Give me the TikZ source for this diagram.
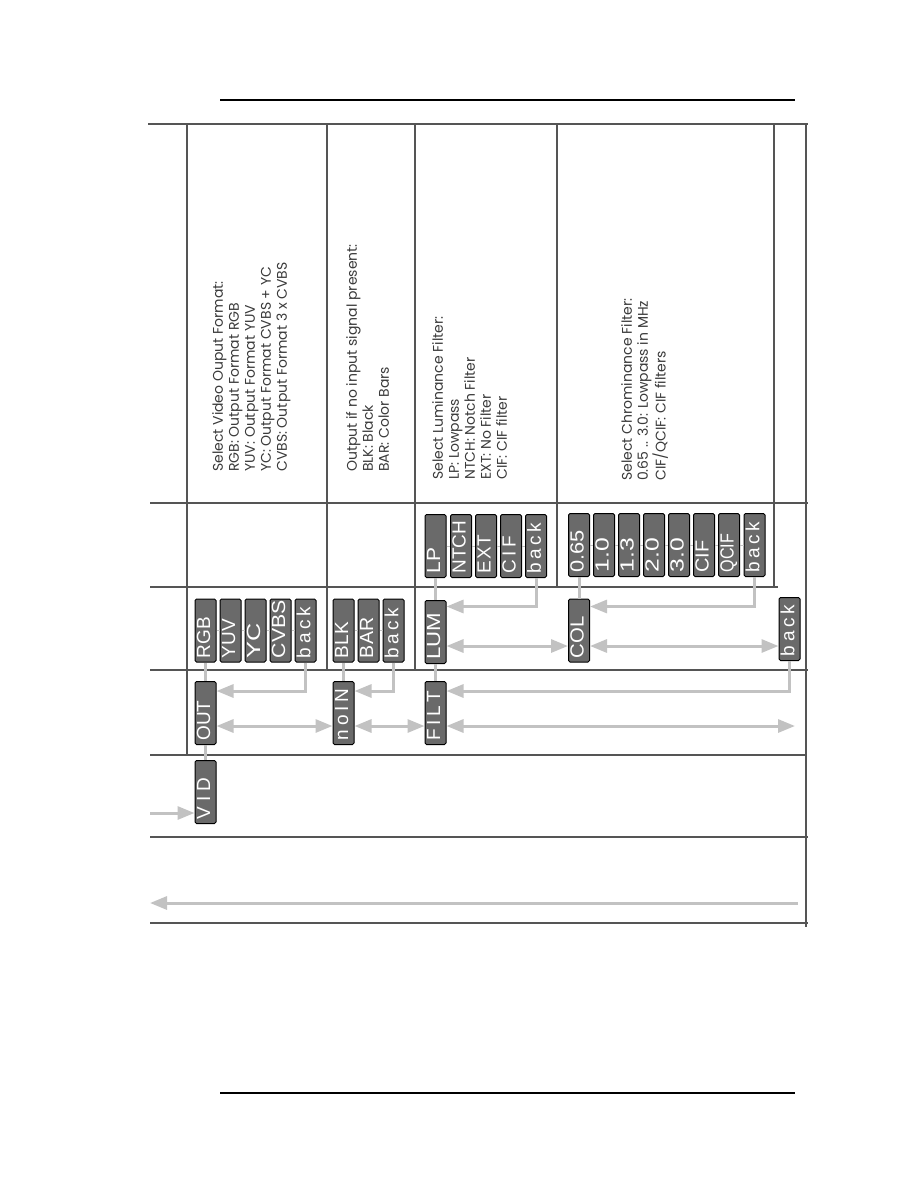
\documentclass[tikz,border=0pt]{standalone}
\usepackage{fontspec}
\setmainfont{Liberation Sans}
\newfontfamily\descfont{Poppins}
\usetikzlibrary{arrows.meta,calc}
\definecolor{boxgray}{HTML}{6A6A6A}
\definecolor{linkgray}{HTML}{C2C2C2}
\definecolor{rulegray}{HTML}{555555}
\definecolor{desctext}{HTML}{3A3A3A}
\tikzset{
 mbox/.style={draw=black, line width=1pt, fill=boxgray, rounded corners=1.5pt, minimum width=21pt, minimum height=63pt, inner sep=0pt, text=white, font=\fontsize{19}{19}\selectfont},
 garrow/.style={draw=linkgray, line width=3pt, -{Triangle[length=17pt,width=13pt]}},
 gdarrow/.style={draw=linkgray, line width=3pt, {Triangle[length=17pt,width=13pt]}-{Triangle[length=17pt,width=13pt]}},
 glink/.style={draw=linkgray, line width=3pt},
 gthin/.style={draw=linkgray, line width=1pt},
 gridline/.style={draw=rulegray, line width=1.5pt},
 pagerule/.style={draw=black, line width=1.2pt},
 desc/.style={rotate=90, anchor=north west, inner sep=0pt, align=left, text=desctext, font=\descfont\fontsize{14}{16}\selectfont},
}
\newcommand{\bl}[2][1]{\rotatebox{90}{\makebox[55pt][l]{\rule[-4pt]{0pt}{17pt}\scalebox{#1}[1]{#2}}}}
\newcommand{\sps}[2]{\makebox[#1pt][s]{#2}}
\begin{document}
\begin{tikzpicture}[x=1pt,y=-1pt]
\useasboundingbox (0,0) rectangle (918,1188);
% page rules
\draw[pagerule] (220,100) -- (795,100);
\draw[pagerule] (220,1093) -- (795,1093);
% table grid
\draw[gridline] (148,124) -- (808,124);
\draw[gridline] (187,124) -- (187,755);
\draw[gridline] (327,124) -- (327,670);
\draw[gridline] (415,124) -- (415,670);
\draw[gridline] (557,124) -- (557,587);
\draw[gridline] (774,124) -- (774,587);
\draw[gridline] (806,124) -- (806,927);
\draw[gridline] (150,503) -- (808,503);
\draw[gridline] (150,587) -- (778,587);
\draw[gridline] (150,670) -- (808,670);
\draw[gridline] (150,755) -- (806,755);
\draw[gridline] (150,837) -- (808,837);
\draw[gridline] (150,923) -- (808,923);
% descriptions
\node[desc] (d1) at (212,472) {Select Video Ouput Format:\\RGB: Output Format RGB\\YUV: Output Format YUV\\YC: Output Format CVBS + YC\\CVBS: Output Format 3 x CVBS};
\node[desc] (d2) at (346,472) {Output if no input signal present:\\BLK: Black\\BAR: Color Bars};
\node[desc] (d3) at (432,480) {Select Luminance Filter:\\LP: Lowpass\\NTCH: Notch Filter\\EXT: No Filter\\CIF: CIF filter};
\node[desc] (d4) at (621,481) {Select Chrominance Filter:\\0.65 .. 3.0: Lowpass in MHz\\CIF/QCIF: CIF filters};
% boxes, top row
\node[mbox] (rgb) at (205.5,630.5) {\bl{RGB}};
\node[mbox] (yuv) at (230.5,630.5) {\bl{YUV}};
\node[mbox] (yc) at (255.5,630.5) {\bl[1.33]{YC}};
\node[mbox] (cvbs) at (280.5,630.5) {\bl[1.12]{CVBS}};
\node[mbox] (bko) at (305.5,630.5) {\bl{\sps{51}{b\hfill a\hfill c\hfill k}}};
\node[mbox] (blk) at (343.5,630.5) {\bl{BLK}};
\node[mbox] (bar) at (368.5,630.5) {\bl[1.03]{BAR}};
\node[mbox] (bkn) at (393.5,630.5) {\bl{\sps{50}{b\hfill a\hfill c\hfill k}}};
\node[mbox] (lum) at (435.5,632) {\bl[1.17]{LUM}};
\node[mbox] (col) at (579,630.5) {\bl[1.07]{COL}};
\node[mbox] (bkc) at (789.5,629) {\bl{\sps{52}{b\hfill a\hfill c\hfill k}}};
% LP row
\node[mbox] (lp) at (435.5,546) {\bl[1.1]{LP}};
\node[mbox] (ntch) at (461,546) {\bl{NTCH}};
\node[mbox] (ext) at (486,546) {\bl{\sps{39}{E\hfill X\hfill T}}};
\node[mbox] (cifl) at (511,546) {\bl{\sps{38}{C\hfill I\hfill F}}};
\node[mbox] (bkl) at (536,546) {\bl{\sps{51}{b\hfill a\hfill c\hfill k}}};
\node[mbox] (c065) at (579,545) {\bl[1.15]{0.65}};
\node[mbox] (c10) at (604,545) {\bl[1.3]{1.0}};
\node[mbox] (c13) at (629,545) {\bl[1.3]{1.3}};
\node[mbox] (c20) at (654,545) {\bl[1.3]{2.0}};
\node[mbox] (c30) at (679,545) {\bl[1.3]{3.0}};
\node[mbox] (cifc) at (704,545) {\bl[1.05]{CIF}};
\node[mbox] (qcif) at (729,545) {\bl[0.85]{QCIF}};
\node[mbox] (bkcc) at (754.5,545) {\bl{\sps{51}{b\hfill a\hfill c\hfill k}}};
% OUT row
\node[mbox] (out) at (205.5,713) {\bl{OUT}};
\node[mbox] (noin) at (343.5,713) {\bl{\sps{52}{n\hfill o\hfill I\hfill N}}};
\node[mbox] (filt) at (435.5,713) {\bl{\sps{50}{F\hfill I\hfill L\hfill T}}};
% VID
\node[mbox] (vid) at (205.5,792) {\bl{\sps{42}{V\hfill I\hfill D}}};
% thin menu links
\draw[gthin] (rgb) -- (yuv) -- (yc) -- (cvbs) -- (bko);
\draw[gthin] (blk) -- (bar) -- (bkn);
\draw[gthin] (lp) -- (ntch) -- (ext) -- (cifl) -- (bkl);
\draw[gthin] (c065) -- (c10) -- (c13) -- (c20) -- (c30) -- (cifc) -- (qcif) -- (bkcc);
% vertical links
\draw[glink] (vid.north) -- (out.south);
\draw[glink] (out.north) -- (rgb.south);
\draw[glink] (noin.north) -- (blk.south);
\draw[glink] (filt.north) -- (lum.south);
\draw[glink] (lum.north) -- (lp.south);
\draw[glink] (col.north) -- (c065.south);
% levels
\coordinate (ya) at (0,691);
\coordinate (yb) at (0,726);
\coordinate (yc1) at (0,606.5);
\coordinate (yd) at (0,646);
\coordinate (rend) at (795,726);
\coordinate (inp) at (150,813);
\coordinate (bstart) at (798,903);
\coordinate (bend) at (150,903);
% arrows
\draw[garrow] (bko.south) |- (out.east |- ya);
\draw[gdarrow] (out.east |- yb) -- (noin.west |- yb);
\draw[garrow] (bkn.south) |- (noin.east |- ya);
\draw[gdarrow] (noin.east |- yb) -- (filt.west |- yb);
\draw[garrow] (bkl.south) |- (lum.east |- yc1);
\draw[gdarrow] (lum.east |- yd) -- (col.west |- yd);
\draw[garrow] (bkcc.south) |- (col.east |- yc1);
\draw[gdarrow] (col.east |- yd) -- (bkc.west |- yd);
\draw[garrow] (bkc.south) |- (filt.east |- ya);
\draw[gdarrow] (filt.east |- yb) -- (rend);
\draw[garrow] (inp) -- (vid.west |- inp);
\draw[garrow] (bstart) -- (bend);
\end{tikzpicture}
\end{document}
